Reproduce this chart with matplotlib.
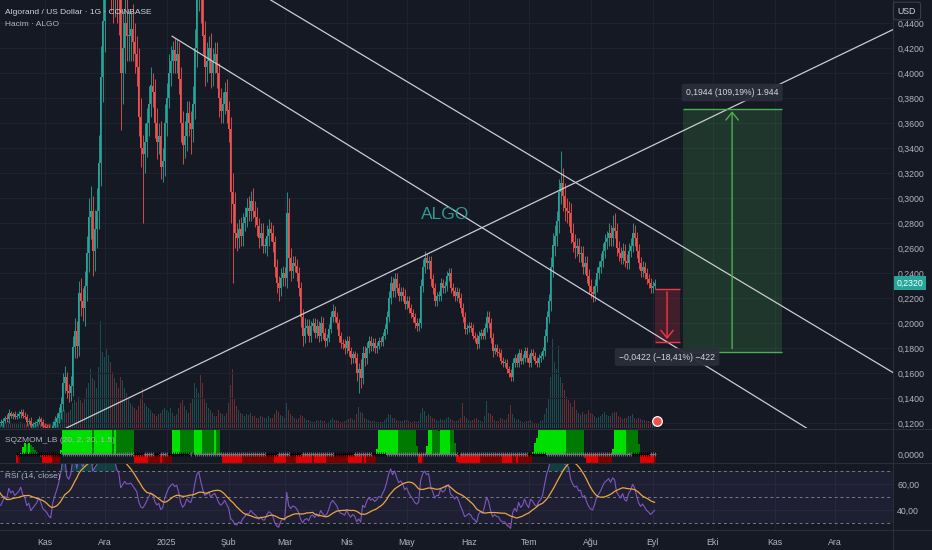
import numpy as np
import pandas as pd
import matplotlib
matplotlib.use('Agg')
import matplotlib.pyplot as plt
import matplotlib.dates as mdates
from matplotlib.lines import Line2D
from matplotlib.patches import Rectangle
from matplotlib.transforms import blended_transform_factory

plt.rcParams['font.family'] = ['Liberation Sans', 'DejaVu Sans']

BG = '#151924'
GRID = '#1e2230'
BORDER = '#2a2e39'
TXT = '#b2b5be'
UP = '#26a69a'
DOWN = '#ef5350'
LINE = '#c9ccd3'

# daily ALGO/USD, first day 2024-09-10 (first 30 days are left of the view, used for indicators)
start_date = '2024-09-10'
# closes in thousandths of a dollar
close_k = [
    125, 128, 130, 132, 135, 133, 130, 128, 132, 138, 140, 142, 140, 138, 142, 145, 143, 140, 138, 135,
    130, 125, 123, 122, 124, 126, 124, 122, 121, 120,
    # Oct 10 - 31
    120, 122, 124, 123, 128, 126, 127, 125, 126, 127, 129, 126, 125, 121, 122, 118, 119, 120, 121, 123, 121, 118,
    # Nov
    117, 116, 114, 113, 118, 121, 124, 128, 135, 152, 157, 146, 144, 150, 181, 194, 182, 224, 218, 212,
    230, 256, 285, 290, 258, 275, 290, 328, 397, 442,
    # Dec
    480, 500, 520, 490, 470, 500, 470, 460, 400, 420, 440, 430, 430, 435, 425, 415, 405, 365, 340, 335,
    345, 360, 375, 390, 385, 360, 345, 350, 325, 330, 360,
    # Jan
    380, 400, 410, 418, 410, 415, 395, 360, 342, 350, 368, 360, 355, 375, 420, 470, 490, 460, 430, 405,
    410, 420, 400, 410, 415, 400, 380, 370, 375, 385, 370,
    # Feb
    355, 305, 295, 272, 268, 275, 270, 280, 285, 292, 290, 298, 290, 285, 278, 268, 272, 262, 262, 270,
    275, 272, 265, 245, 232, 228, 236, 240,
    # Mar
    236, 288, 252, 242, 248, 246, 240, 228, 205, 190, 196, 198, 190, 198, 200, 192, 198, 190, 200, 192,
    186, 188, 195, 205, 210, 205, 200, 190, 184, 183, 180,
    # Apr
    186, 178, 172, 175, 172, 160, 163, 156, 176, 172, 180, 186, 182, 184, 180, 182, 186, 185, 190, 195,
    205, 220, 232, 226, 235, 228, 222, 225, 222, 215,
    # May
    218, 212, 208, 205, 200, 198, 200, 230, 245, 252, 248, 250, 235, 228, 218, 222, 222, 232, 228, 230,
    238, 240, 228, 226, 222, 225, 220, 212, 205, 195, 196,
    # Jun
    198, 196, 190, 188, 183, 190, 192, 190, 196, 205, 200, 188, 178, 180, 177, 176, 170, 168, 168, 163,
    160, 157, 168, 172, 168, 176, 170, 172, 178, 172,
    # Jul
    168, 176, 174, 170, 168, 172, 174, 178, 190, 205, 218, 245, 262, 270, 282, 305, 312, 302, 292, 290,
    288, 272, 265, 260, 262, 255, 256, 245, 248, 238, 230,
    # Aug
    225, 223, 230, 240, 245, 250, 258, 265, 268, 272, 268, 276, 274, 260, 256, 252, 258, 250, 248, 258,
    262, 272, 268, 258, 248, 242, 245, 240, 235, 232, 228,
    # Sep
    230, 232,
]
# upper / lower wicks beyond the body, thousandths
wick_up_k = [
    3, 3, 2, 3, 4, 3, 2, 3, 4, 3, 3, 2, 3, 3, 4, 3, 2, 3, 2, 3, 3, 4, 2, 2, 3, 2, 2, 3, 2, 2,
    3, 2, 2, 3, 3, 2, 2, 3, 2, 3, 2, 2, 3, 2, 2, 3, 2, 2, 2, 3, 2, 2,
    2, 2, 3, 2, 4, 5, 4, 5, 6, 8, 9, 4, 5, 8, 9, 10, 8, 10, 12, 10, 12, 14, 15, 20, 12, 15, 18, 22, 25, 30,
    30, 40, 80, 40, 30, 30, 35, 30, 25, 30, 25, 20, 20, 15, 20, 15, 15, 15, 15, 10, 15, 12, 15, 15, 10, 10, 12, 10, 12, 10, 15,
    12, 15, 12, 8, 10, 12, 10, 10, 10, 12, 10, 10, 10, 15, 15, 20, 15, 15, 15, 12, 15, 10, 12, 10, 10, 10, 8, 8, 10, 8, 10,
    8, 10, 15, 10, 8, 8, 10, 8, 8, 8, 10, 8, 10, 8, 8, 6, 8, 8, 6, 8, 8, 6, 6, 5, 6, 6, 8, 6,
    5, 17, 12, 8, 6, 6, 5, 5, 5, 6, 8, 5, 5, 4, 4, 4, 5, 4, 6, 5, 4, 3, 4, 5, 5, 4, 4, 3, 3, 3, 4,
    4, 4, 3, 3, 3, 4, 5, 8, 6, 6, 5, 4, 4, 4, 4, 3, 3, 3, 3, 4, 5, 6, 6, 5, 5, 5, 4, 4, 4, 5,
    4, 4, 3, 3, 3, 4, 4, 5, 6, 6, 4, 4, 4, 4, 4, 3, 4, 4, 3, 4, 4, 4, 4, 4, 3, 4, 3, 4, 4, 4, 3,
    3, 3, 3, 3, 3, 4, 3, 3, 4, 5, 5, 4, 4, 3, 3, 3, 3, 3, 3, 3, 3, 3, 4, 3, 3, 3, 3, 3, 3, 3,
    3, 3, 3, 3, 3, 3, 3, 3, 5, 5, 5, 8, 10, 8, 8, 10, 26, 12, 10, 8, 8, 8, 8, 6, 6, 6, 6, 6, 6, 6, 5,
    5, 5, 5, 5, 5, 6, 6, 6, 6, 8, 6, 10, 12, 6, 6, 5, 6, 5, 5, 6, 6, 8, 6, 5, 5, 5, 5, 4, 4, 4, 4,
    4, 3,
]
wick_dn_k = [
    3, 2, 3, 2, 3, 3, 2, 3, 2, 3, 2, 3, 2, 3, 3, 2, 3, 2, 3, 2, 3, 5, 2, 3, 2, 2, 3, 2, 2, 3,
    2, 3, 2, 2, 3, 2, 3, 2, 2, 2, 3, 2, 2, 3, 2, 2, 3, 2, 2, 2, 3, 3,
    3, 2, 3, 3, 2, 4, 4, 4, 5, 5, 8, 6, 7, 6, 8, 9, 10, 8, 12, 10, 14, 12, 15, 18, 20, 16, 15, 15, 18, 20,
    25, 20, 30, 40, 30, 25, 30, 30, 46, 25, 20, 20, 20, 20, 15, 15, 15, 15, 15, 55, 15, 12, 10, 10, 12, 12, 14, 10, 10, 12, 12,
    10, 8, 10, 10, 10, 10, 12, 15, 15, 10, 12, 10, 20, 10, 12, 15, 20, 20, 15, 15, 12, 10, 12, 10, 10, 12, 15, 10, 10, 8, 10,
    10, 25, 63, 12, 10, 8, 8, 8, 6, 8, 8, 8, 6, 8, 8, 8, 6, 6, 6, 8, 8, 6, 8, 8, 8, 10, 6, 6,
    6, 8, 10, 8, 6, 5, 6, 6, 8, 8, 6, 5, 5, 5, 4, 4, 4, 5, 4, 5, 5, 4, 3, 3, 4, 4, 5, 5, 4, 4, 5,
    4, 4, 5, 4, 4, 6, 16, 8, 5, 6, 5, 4, 4, 4, 4, 4, 3, 3, 3, 3, 4, 4, 5, 5, 5, 4, 4, 4, 4, 4,
    4, 4, 4, 4, 4, 4, 4, 4, 5, 5, 5, 5, 5, 5, 4, 4, 4, 4, 4, 4, 4, 4, 4, 4, 4, 4, 4, 4, 4, 4, 4,
    3, 3, 3, 3, 4, 3, 3, 3, 3, 3, 4, 4, 5, 3, 3, 3, 3, 3, 3, 3, 3, 3, 3, 3, 3, 3, 3, 3, 3, 3,
    3, 3, 3, 3, 3, 3, 3, 3, 4, 5, 5, 8, 8, 8, 8, 10, 10, 12, 10, 10, 10, 8, 8, 8, 6, 6, 6, 6, 6, 6, 6,
    5, 6, 5, 5, 5, 5, 5, 6, 6, 6, 6, 6, 6, 6, 6, 5, 5, 5, 5, 5, 5, 5, 6, 6, 5, 5, 5, 5, 4, 4, 4,
    4, 3,
]
# daily volume, millions ALGO
volume_m = [
    5, 5, 6, 5, 4, 5, 6, 5, 5, 6, 5, 5, 4, 5, 6, 5, 5, 5, 6, 5, 5, 8, 6, 5, 5, 5, 4, 5, 5, 5,
    6, 5, 5, 4, 7, 5, 5, 4, 5, 5, 6, 5, 4, 6, 5, 6, 4, 4, 5, 5, 4, 5,
    5, 4, 4, 5, 6, 9, 10, 12, 14, 18, 18, 15, 16, 18, 25, 28, 26, 31, 28, 25, 30, 40, 45, 58, 50, 48, 40, 60, 106, 75,
    70, 78, 72, 65, 55, 50, 45, 40, 51, 48, 40, 35, 30, 25, 22, 20, 18, 22, 30, 40, 25, 22, 20, 18, 15, 14, 12, 14, 15, 18, 20,
    18, 16, 20, 15, 12, 14, 20, 25, 28, 22, 18, 15, 25, 30, 45, 40, 35, 53, 45, 30, 25, 20, 18, 15, 12, 12, 18, 15, 14, 12, 15,
    25, 43, 58, 30, 22, 18, 15, 14, 12, 14, 13, 15, 12, 12, 10, 10, 12, 11, 10, 10, 12, 10, 10, 14, 18, 16, 13, 12,
    10, 25, 18, 14, 12, 10, 9, 10, 13, 12, 10, 8, 8, 7, 6, 6, 8, 7, 8, 7, 7, 5, 6, 8, 10, 8, 8, 7, 6, 6, 7,
    8, 9, 10, 9, 8, 14, 21, 16, 15, 10, 9, 8, 7, 7, 7, 6, 6, 6, 6, 8, 10, 14, 13, 10, 10, 8, 7, 7, 7, 8,
    8, 7, 6, 6, 7, 6, 7, 15, 20, 17, 12, 14, 12, 10, 9, 8, 7, 9, 8, 8, 10, 11, 9, 8, 7, 7, 8, 10, 25, 12, 10,
    8, 7, 8, 9, 10, 8, 7, 6, 12, 27, 15, 14, 12, 8, 7, 7, 10, 9, 8, 9, 14, 23, 14, 10, 8, 9, 7, 6, 6, 7,
    7, 8, 6, 5, 4, 5, 7, 8, 14, 20, 30, 51, 88, 65, 58, 81, 51, 45, 38, 31, 28, 25, 21, 28, 18, 15, 13, 16, 14, 14, 18,
    15, 14, 12, 10, 11, 12, 14, 16, 13, 12, 12, 15, 16, 16, 12, 11, 9, 10, 10, 12, 12, 14, 10, 9, 10, 9, 8, 8, 7, 7, 6,
    7, 5,
]

month_ticks = pd.date_range('2024-11-01', '2025-12-01', freq='MS')
month_labels = ['Kas', 'Ara', '2025', 'Şub', 'Mar', 'Nis', 'May', 'Haz', 'Tem', 'Ağu', 'Eyl', 'Eki', 'Kas', 'Ara']
price_ticks = [0.12, 0.14, 0.16, 0.18, 0.20, 0.22, 0.24, 0.26, 0.28, 0.30, 0.32, 0.34, 0.36, 0.38, 0.40, 0.42, 0.44]
rsi_ticks = [40, 60]
view_start = pd.Timestamp('2024-10-09 15:00')
view_end = pd.Timestamp('2025-12-30 06:00')
price_range = (0.116, 0.4584)

# drawings on the chart: (time, price) anchors
line_rise = [('2024-11-09 17:00', 0.1144), ('2025-12-29 19:00', 0.4344)]
line_fall_top = [('2025-02-22 00:00', 0.4584), ('2025-12-29 19:00', 0.1608)]
line_fall_low = [('2025-01-03 17:00', 0.4294), ('2025-11-14 17:00', 0.1182)]
range_up = dict(t0='2025-09-16', t1='2025-11-04 14:00', p0=0.1772, p1=0.3716,
                label='0,1944 (109,19%) 1.944', color='#4caf50')
range_dn = dict(t0='2025-09-02', t1='2025-09-14 12:00', p0=0.2272, p1=0.1850,
                label='\u22120,0422 (\u221218,41%) \u2212422', color='#f23645')
watermark = ('2025-05-20', 0.2868, 'ALGO')

assert len(close_k) == len(wick_up_k) == len(wick_dn_k) == len(volume_m), \
    (len(close_k), len(wick_up_k), len(wick_dn_k), len(volume_m))

dates = pd.date_range(start_date, periods=len(close_k), freq='D')
x = mdates.date2num(dates)
c = np.array(close_k, float) / 1000
o = np.r_[c[0], c[:-1]]
h = np.maximum(o, c) + np.array(wick_up_k) / 1000
l = np.minimum(o, c) - np.array(wick_dn_k) / 1000
v = np.array(volume_m, float)
is_up = c >= o

# --- indicators ---
s = pd.Series(c)
n = 20
basis = s.rolling(n).mean()
dev = 2.0 * s.rolling(n).std(ddof=0)
prev_c = s.shift(1)
tr = pd.concat([pd.Series(h - l), (pd.Series(h) - prev_c).abs(), (pd.Series(l) - prev_c).abs()], axis=1).max(axis=1)
rangema = tr.rolling(n).mean()
up_kc, lo_kc = basis + 1.5 * rangema, basis - 1.5 * rangema
up_bb, lo_bb = basis + dev, basis - dev
sqz_on = (lo_bb > lo_kc) & (up_bb < up_kc)
sqz_off = (lo_bb < lo_kc) & (up_bb > up_kc)
src = s - ((pd.Series(h).rolling(n).max() + pd.Series(l).rolling(n).min()) / 2 + basis) / 2
xs = np.arange(n)
val = src.rolling(n).apply(lambda w: np.polyval(np.polyfit(xs, w, 1), n - 1), raw=True)
prev_val = val.shift(1).fillna(0)
bar_col = np.where(val > 0, np.where(val > prev_val, '#00e000', '#007a00'),
                   np.where(val < prev_val, '#e00000', '#7a0000'))
dot_col = np.where(sqz_on, '#000000', np.where(sqz_off, '#787b86', '#2962ff'))

delta = s.diff()
gain = delta.clip(lower=0).ewm(alpha=1 / 14, adjust=False).mean()
loss = (-delta.clip(upper=0)).ewm(alpha=1 / 14, adjust=False).mean()
rsi = 100 - 100 / (1 + gain / loss)
rsi_ma = rsi.rolling(14).mean()

# --- figure ---
fig = plt.figure(figsize=(9.32, 5.5), dpi=100, facecolor=BG)
W = 893 / 932
ax = fig.add_axes([0, 1 - 428 / 550, W, 428 / 550])
ax_v = ax.twinx()
ax_s = fig.add_axes([0, 1 - 463 / 550, W, 34 / 550], sharex=ax)
ax_r = fig.add_axes([0, 1 - 530 / 550, W, 67 / 550], sharex=ax)

ax_v.set_zorder(0)
ax.set_zorder(1)
ax.patch.set_visible(False)
for a in (ax_v, ax_s, ax_r):
    a.set_facecolor(BG)
for a in (ax, ax_v, ax_s, ax_r):
    for sp in a.spines.values():
        sp.set_visible(False)

def fmt4(p):
    return f'{p:.4f}'.replace('.', ',')

# volume
ax_v.bar(x, v, width=0.75, color=np.where(is_up, UP, DOWN), alpha=0.38, lw=0)
ax_v.set_ylim(0, v.max() * 4.0)
ax_v.set_yticks([])

# candles
col = np.where(is_up, UP, DOWN)
ax.vlines(x, l, h, colors=col, lw=0.6, zorder=2)
ax.bar(x, np.maximum(np.abs(c - o), 0.0006), bottom=np.minimum(o, c), width=0.75, color=col, lw=0, zorder=3)

ax.set_xlim(mdates.date2num(view_start), mdates.date2num(view_end))
ax.set_ylim(*price_range)
ax.yaxis.tick_right()
ax.set_yticks(price_ticks)
ax.set_yticklabels([fmt4(p) for p in price_ticks])
ax.tick_params(axis='y', length=0, pad=3, labelsize=6.3, colors=TXT)
ax.tick_params(axis='x', length=0, labelbottom=False)
ax.set_xticks(mdates.date2num(month_ticks))
ax.grid(color=GRID, lw=0.8)
ax.set_axisbelow(True)

# trend lines
def anchors(pts):
    return [(mdates.date2num(pd.Timestamp(t)), p) for t, p in pts]

for pts in (line_rise, line_fall_top):
    p1, p2 = anchors(pts)
    ax.axline(p1, p2, color=LINE, lw=0.9, zorder=4)
(x1, y1), (x2, y2) = anchors(line_fall_low)
x_end = mdates.date2num(view_end)
ax.plot([x1, x_end], [y1, y1 + (y2 - y1) / (x2 - x1) * (x_end - x1)], color=LINE, lw=0.9, zorder=4)

# price range tools
for rng, up_dir in ((range_up, True), (range_dn, False)):
    t0 = mdates.date2num(pd.Timestamp(rng['t0']))
    t1 = mdates.date2num(pd.Timestamp(rng['t1']))
    lo_p, hi_p = min(rng['p0'], rng['p1']), max(rng['p0'], rng['p1'])
    ax.add_patch(Rectangle((t0, lo_p), t1 - t0, hi_p - lo_p, fc=rng['color'], alpha=0.2, lw=0, zorder=3))
    ax.hlines([rng['p0'], rng['p1']], t0, t1, colors=rng['color'], lw=1.0, zorder=4)
    cx = (t0 + t1) / 2
    ax.annotate('', xy=(cx, rng['p1']), xytext=(cx, rng['p0']),
                arrowprops=dict(arrowstyle='->,head_length=0.55,head_width=0.45', color=rng['color'], lw=1.0),
                zorder=5)
    ax.annotate(rng['label'], xy=(cx, hi_p if up_dir else lo_p), xytext=(0, 11.5 if up_dir else -11),
                textcoords='offset points', ha='center', va='center', fontsize=6.2, color='#d1d4dc', zorder=6,
                bbox=dict(boxstyle='round,pad=0.5,rounding_size=0.25', fc='#2a2e39', ec='none', alpha=0.95))

ax.text(pd.Timestamp(watermark[0]), watermark[1], watermark[2], fontsize=12.5, color='#2a9d96',
        ha='center', va='center', zorder=5)

# event flag under the last candle
flag_t = mdates.date2num(dates[-1] + pd.Timedelta(days=1))
ax.scatter([flag_t], [0.016], transform=blended_transform_factory(ax.transData, ax.transAxes),
           s=48, fc=DOWN, ec='white', lw=0.9, zorder=6, clip_on=False)

# last price label
ax.text(1.004, c[-1], fmt4(c[-1]), transform=blended_transform_factory(ax.transAxes, ax.transData),
        ha='left', va='center', fontsize=6.3, color='white', zorder=10, clip_on=False,
        bbox=dict(boxstyle='square,pad=0.3', fc=UP, ec='none'))

# squeeze momentum
ok = val.notna().values
ax_s.bar(x[ok], val[ok], width=1.0, color=bar_col[ok], lw=0)
ax_s.scatter(x[ok], np.zeros(ok.sum()), marker='+', s=7, c=dot_col[ok], lw=0.6, zorder=3)
k = 2e-4
ax_s.set_ylim(-9 * k, 25 * k)
ax_s.yaxis.tick_right()
ax_s.set_yticks([0])
ax_s.set_yticklabels([fmt4(0)])
ax_s.tick_params(axis='y', length=0, pad=3, labelsize=6.3, colors=TXT)
ax_s.tick_params(axis='x', length=0, labelbottom=False)
ax_s.grid(axis='x', color=GRID, lw=0.8)
ax_s.set_axisbelow(True)

# RSI
ax_r.axhspan(30, 70, color='#7e57c2', alpha=0.1, lw=0)
for lvl in (70, 50, 30):
    ax_r.axhline(lvl, color='#787b86', lw=0.7, ls=(0, (3, 3)))
rv = rsi.values
ax_r.fill_between(x, 70, rv, where=rv > 70, interpolate=True, color='#089981', alpha=0.3, lw=0)
ax_r.fill_between(x, 30, rv, where=rv < 30, interpolate=True, color='#f23645', alpha=0.3, lw=0)
ax_r.plot(x, rv, color='#7e57c2', lw=0.8)
ax_r.plot(x, rsi_ma.values, color='#eba640', lw=0.9)
ax_r.set_ylim(24.6, 76.2)
ax_r.yaxis.tick_right()
ax_r.set_yticks(rsi_ticks)
ax_r.set_yticklabels([f'{t:.2f}'.replace('.', ',') for t in rsi_ticks])
ax_r.tick_params(axis='y', length=0, pad=3, labelsize=6.3, colors=TXT)
ax_r.set_xticks(mdates.date2num(month_ticks))
ax_r.set_xticklabels(month_labels)
ax_r.tick_params(axis='x', length=0, pad=6, labelsize=6.3, colors=TXT)
ax_r.grid(color=GRID, lw=0.8)
ax_r.set_axisbelow(True)

# pane borders
for yp in (428.5, 463, 530):
    fig.add_artist(Line2D([0, 1], [1 - yp / 550] * 2, transform=fig.transFigure, color=BORDER, lw=0.8))
fig.add_artist(Line2D([W, W], [0, 1], transform=fig.transFigure, color=BORDER, lw=0.8))

# texts
fig.text(5 / 932, 1 - 12 / 550, 'Algorand / US Dollar \u00b7 1G \u00b7 COINBASE', fontsize=6.0, color='#d1d4dc', va='center')
fig.text(5 / 932, 1 - 24 / 550, 'Hacim \u00b7 ALGO', fontsize=6.0, color=TXT, va='center')
fig.text(5 / 932, 1 - 441 / 550, 'SQZMOM_LB (20, 2, 20, 1.5)', fontsize=6.0, color=TXT, va='center')
fig.text(5 / 932, 1 - 476 / 550, 'RSI (14, close)', fontsize=6.0, color=TXT, va='center')
fig.text(907 / 932, 1 - 11 / 550, 'USD', fontsize=6.3, color='#d1d4dc', ha='center', va='center', zorder=20,
         bbox=dict(boxstyle='round,pad=0.5,rounding_size=0.3', fc=BG, ec='#3a3e4a', lw=0.8))

fig.savefig('out.png', dpi=100, facecolor=BG)
